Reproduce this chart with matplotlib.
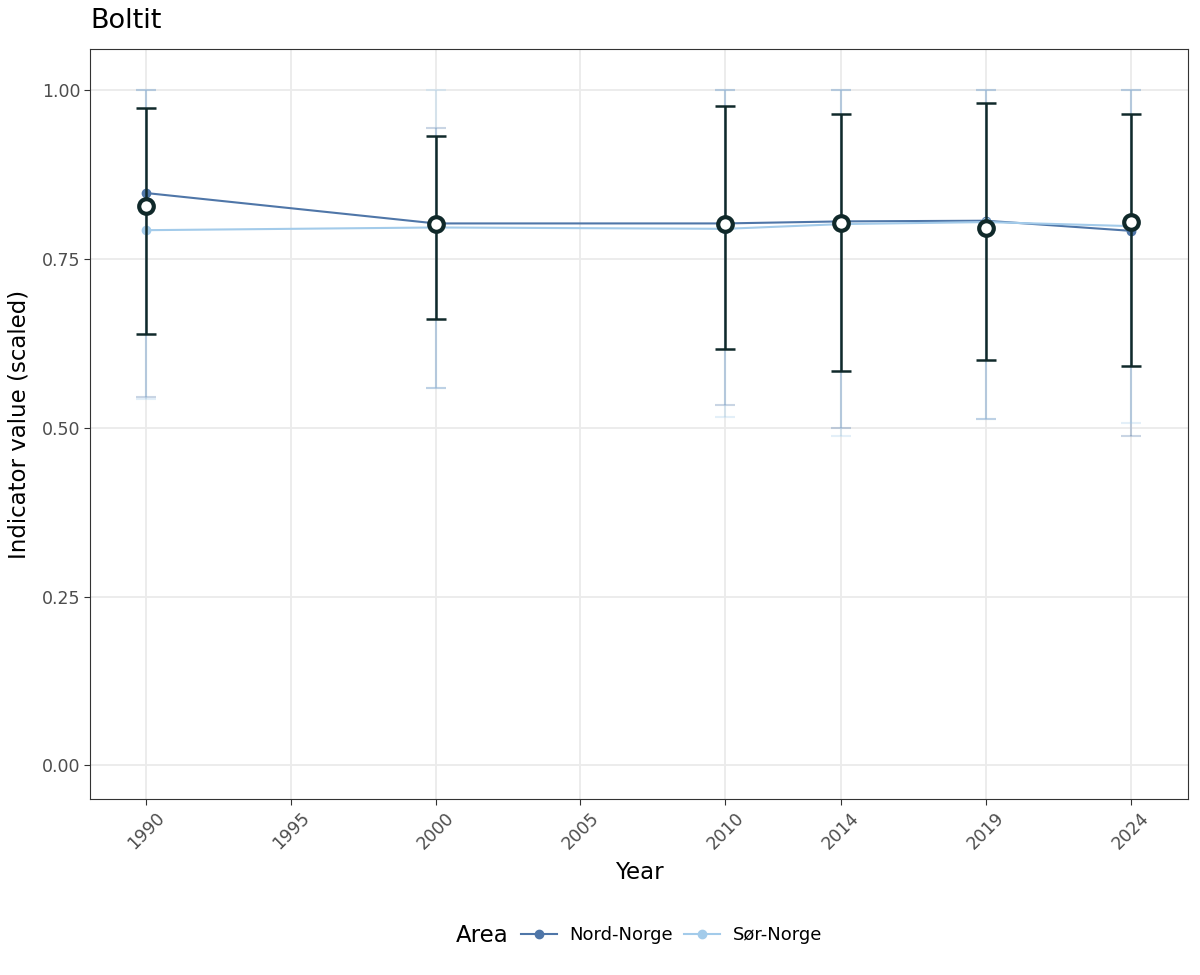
#!/usr/bin/env python3

import matplotlib
matplotlib.use('Agg')
import matplotlib.pyplot as plt
from matplotlib.lines import Line2D
import numpy as np

# Data
years = [1990, 2000, 2010, 2014, 2019, 2024]

nord_mean = [0.847, 0.802, 0.802, 0.805, 0.806, 0.791]
nord_low = [0.545, 0.558, 0.533, 0.500, 0.512, 0.487]
nord_high = [1.000, 0.943, 1.000, 1.000, 1.000, 1.000]

sor_mean = [0.792, 0.796, 0.794, 0.801, 0.804, 0.798]
sor_low = [0.542, 0.558, 0.516, 0.487, 0.512, 0.506]
sor_high = [1.000, 1.000, 1.000, 1.000, 1.000, 1.000]

total_mean = [0.828, 0.801, 0.801, 0.802, 0.795, 0.804]
total_low = [0.638, 0.660, 0.616, 0.583, 0.600, 0.591]
total_high = [0.973, 0.931, 0.975, 0.964, 0.980, 0.964]

x_ticks = [1990, 1995, 2000, 2005, 2010, 2014, 2019, 2024]
y_ticks = [0.00, 0.25, 0.50, 0.75, 1.00]

NORD_COL = '#4f76a8'
SOR_COL = '#a3cbea'
DARK = '#10292a'


def plot_area(ax, mean, low, high, color):
    mean = np.array(mean)
    yerr = [mean - np.array(low), np.array(high) - mean]
    ax.errorbar(years, mean, yerr=yerr, fmt='none', ecolor=color,
                elinewidth=1.5, capsize=7, capthick=1.5, alpha=0.3, zorder=2)
    ax.plot(years, mean, '-', color=color, linewidth=1.5, zorder=3)
    ax.plot(years, mean, 'o', color=color, markersize=6, zorder=3)


fig = plt.figure(figsize=(12, 9.75), dpi=100)
ax = fig.add_axes([0.075, 0.1805, 0.915, 0.7692])

plot_area(ax, nord_mean, nord_low, nord_high, NORD_COL)
plot_area(ax, sor_mean, sor_low, sor_high, SOR_COL)

# overall mean with interval
tm = np.array(total_mean)
ax.errorbar(years, tm, yerr=[tm - np.array(total_low), np.array(total_high) - tm],
            fmt='none', ecolor=DARK, elinewidth=1.8, capsize=7, capthick=1.8,
            zorder=4)
ax.plot(years, tm, 'o', markerfacecolor='white', markeredgecolor=DARK,
        markeredgewidth=3.0, markersize=10.5, zorder=5)

ax.set_xlim(1988.07, 2025.97)
ax.set_ylim(-0.0496, 1.06)
ax.set_xticks(x_ticks)
ax.set_xticklabels([str(t) for t in x_ticks], rotation=45, fontsize=12.5,
                   color='#4d4d4d')
ax.set_yticks(y_ticks)
ax.set_yticklabels(['%.2f' % t for t in y_ticks], fontsize=12.5, color='#4d4d4d')
ax.tick_params(axis='both', length=4, color='#333333', width=0.8, pad=3)
ax.grid(True, color='#ebebeb', linewidth=1.3, zorder=0)
ax.set_axisbelow(True)
for sp in ax.spines.values():
    sp.set_color('#333333')
    sp.set_linewidth(0.8)

ax.set_xlabel('Year', fontsize=16.5, labelpad=6)
ax.set_ylabel('Indicator value (scaled)', fontsize=16.5, labelpad=8)
fig.text(0.075, 0.978, 'Boltit', fontsize=19.5, ha='left', va='center')

# legend at the bottom, title to the left of the keys
handles = [
    Line2D([0], [0], color=NORD_COL, marker='o', markersize=6, linewidth=1.5),
    Line2D([0], [0], color=SOR_COL, marker='o', markersize=6, linewidth=1.5),
]
fig.text(0.38, 0.041, 'Area', fontsize=16.5, ha='left', va='center')
fig.legend(handles, ['Nord-Norge', 'Sør-Norge'],
           loc='center left', bbox_to_anchor=(0.434, 0.041), ncol=2,
           frameon=False, fontsize=13, handlelength=2.0,
           handletextpad=0.7, columnspacing=0.6, borderpad=0, borderaxespad=0)

fig.savefig('out.png', dpi=100)
